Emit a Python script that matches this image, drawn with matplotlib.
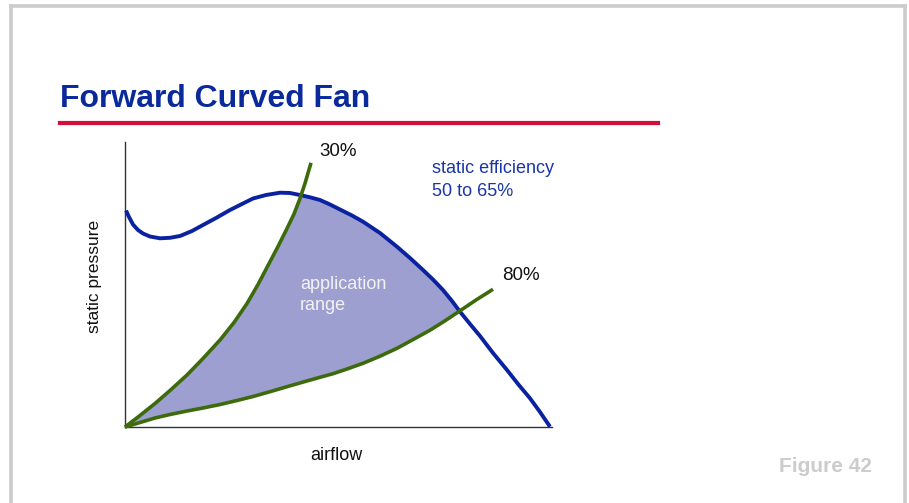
import numpy as np
import matplotlib
matplotlib.use("Agg")
import matplotlib.pyplot as plt
from matplotlib.lines import Line2D

plt.rcParams['font.family'] = ['Liberation Sans', 'DejaVu Sans']

# values (airflow and pressure both on a 0-100 scale)
fan_x = [0.23, 0.94, 1.87, 3.04, 4.22, 5.85, 8.20, 10.54, 12.88, 15.69, 18.27,
         21.31, 24.59, 27.40, 29.98, 33.02, 36.30, 38.64, 40.98, 43.33, 45.67,
         48.01, 50.35, 53.16, 55.74, 59.72, 63.70, 66.74, 69.79, 72.13, 74.47,
         76.58, 78.45, 80.80, 83.14, 86.18, 89.46, 92.04, 94.85, 97.19, 99.53]
fan_y = [75.96, 73.68, 71.05, 69.12, 67.89, 66.84, 66.21, 66.39, 67.02, 68.77,
         70.88, 73.33, 76.14, 78.25, 80.18, 81.40, 82.21, 82.11, 81.40, 80.60,
         79.65, 78.07, 76.32, 74.21, 72.04, 68.07, 63.26, 59.30, 55.09, 51.75,
         48.07, 44.21, 40.46, 36.14, 31.93, 25.96, 20.00, 15.09, 10.07, 5.26, 0.11]

eff30_x = [0.0, 3.51, 7.03, 10.54, 14.52, 18.27, 22.25, 25.53, 28.57, 31.15,
           33.49, 35.83, 37.94, 39.58, 40.98, 42.15, 43.56]
eff30_y = [0.0, 4.04, 8.25, 12.81, 18.25, 24.04, 30.53, 36.67, 43.33, 50.00,
           56.67, 63.33, 69.65, 74.74, 80.18, 85.44, 92.70]

eff80_x = [0.0, 3.51, 7.03, 10.54, 14.52, 18.27, 22.25, 26.23, 29.98, 33.96,
           37.94, 42.15, 45.67, 48.71, 51.99, 55.74, 59.72, 63.70, 67.45, 71.43,
           74.94, 78.45, 82.20, 86.18]
eff80_y = [0.0, 1.58, 3.16, 4.39, 5.61, 6.67, 7.89, 9.30, 10.70, 12.39, 14.14,
           15.96, 17.44, 18.70, 20.35, 22.35, 24.84, 27.61, 30.67, 33.96, 37.26,
           40.77, 44.56, 48.32]

W, H = 909, 503


def fx(px):
    return px / W


def fy(py):
    return 1 - py / H


fig = plt.figure(figsize=(W / 100, H / 100), dpi=100)

# slide frame
frame = "#cccccc"
fig.add_artist(Line2D([fx(10.5), fx(10.5)], [fy(5.5), fy(510)], color=frame, lw=2.6))
fig.add_artist(Line2D([fx(10.5), fx(905)], [fy(5.5), fy(5.5)], color=frame, lw=2.6))
fig.add_artist(Line2D([fx(905), fx(905)], [fy(5.5), fy(510)], color=frame, lw=2.6))

fig.text(fx(60), fy(107), "Forward Curved Fan", fontsize=23, fontweight='bold',
         color="#0a2a9c", va='baseline')
fig.add_artist(Line2D([fx(60), fx(658)], [fy(123), fy(123)], color="#d2103a", lw=3))
fig.text(fx(872), fy(472), "Figure 42", fontsize=15, fontweight='bold',
         color="#cccccc", ha='right', va='baseline')

ax = fig.add_axes([fx(125), fy(427), (552 - 125) / W, (427 - 142) / H])
ax.set_xlim(0, 100)
ax.set_ylim(0, 100)
for s in ['top', 'right']:
    ax.spines[s].set_visible(False)
for s in ['left', 'bottom']:
    ax.spines[s].set_color("#333333")
    ax.spines[s].set_linewidth(1.0)
ax.set_xticks([])
ax.set_yticks([])

# application range: between the 30% line, the fan curve and the 80% line
fan_x_a, fan_y_a = np.array(fan_x), np.array(fan_y)
e30x, e30y = np.array(eff30_x), np.array(eff30_y)
e80x, e80y = np.array(eff80_x), np.array(eff80_y)
m30 = e30x <= 40.98
mfan = (fan_x_a >= 40.98) & (fan_x_a <= 78.45)
m80 = e80x <= 78.45
poly_x = np.concatenate([e30x[m30], fan_x_a[mfan], e80x[m80][::-1]])
poly_y = np.concatenate([e30y[m30], fan_y_a[mfan], e80y[m80][::-1]])
ax.fill(poly_x, poly_y, color="#9c9fd0", lw=0, zorder=1)

green = "#3d6b0c"
ax.plot(fan_x, fan_y, color="#0a22a0", lw=2.8, clip_on=False, zorder=3,
        solid_joinstyle='round', solid_capstyle='butt')
ax.plot(eff30_x, eff30_y, color=green, lw=2.6, clip_on=False, zorder=4,
        solid_joinstyle='round', solid_capstyle='butt')
ax.plot(eff80_x, eff80_y, color=green, lw=2.6, clip_on=False, zorder=4,
        solid_joinstyle='round', solid_capstyle='butt')

fig.text(fx(319), fy(156), "30%", fontsize=13.5, va='baseline', color="#111111")
fig.text(fx(502), fy(280), "80%", fontsize=13.5, va='baseline', color="#111111")
fig.text(fx(432), fy(173), "static efficiency", fontsize=13, va='baseline',
         color="#1a35a8")
fig.text(fx(432), fy(196), "50 to 65%", fontsize=13, va='baseline',
         color="#1a35a8")
fig.text(fx(300), fy(289), "application", fontsize=13, va='baseline',
         color="#f2f2f2")
fig.text(fx(300), fy(310), "range", fontsize=13, va='baseline',
         color="#f2f2f2")
fig.text(fx(336), fy(460), "airflow", fontsize=13, ha='center', va='baseline',
         color="#111111")
fig.text(fx(94), fy(276), "static pressure", fontsize=12.5, rotation=90,
         ha='center', va='center', color="#111111")

fig.savefig("out.png", dpi=100)
